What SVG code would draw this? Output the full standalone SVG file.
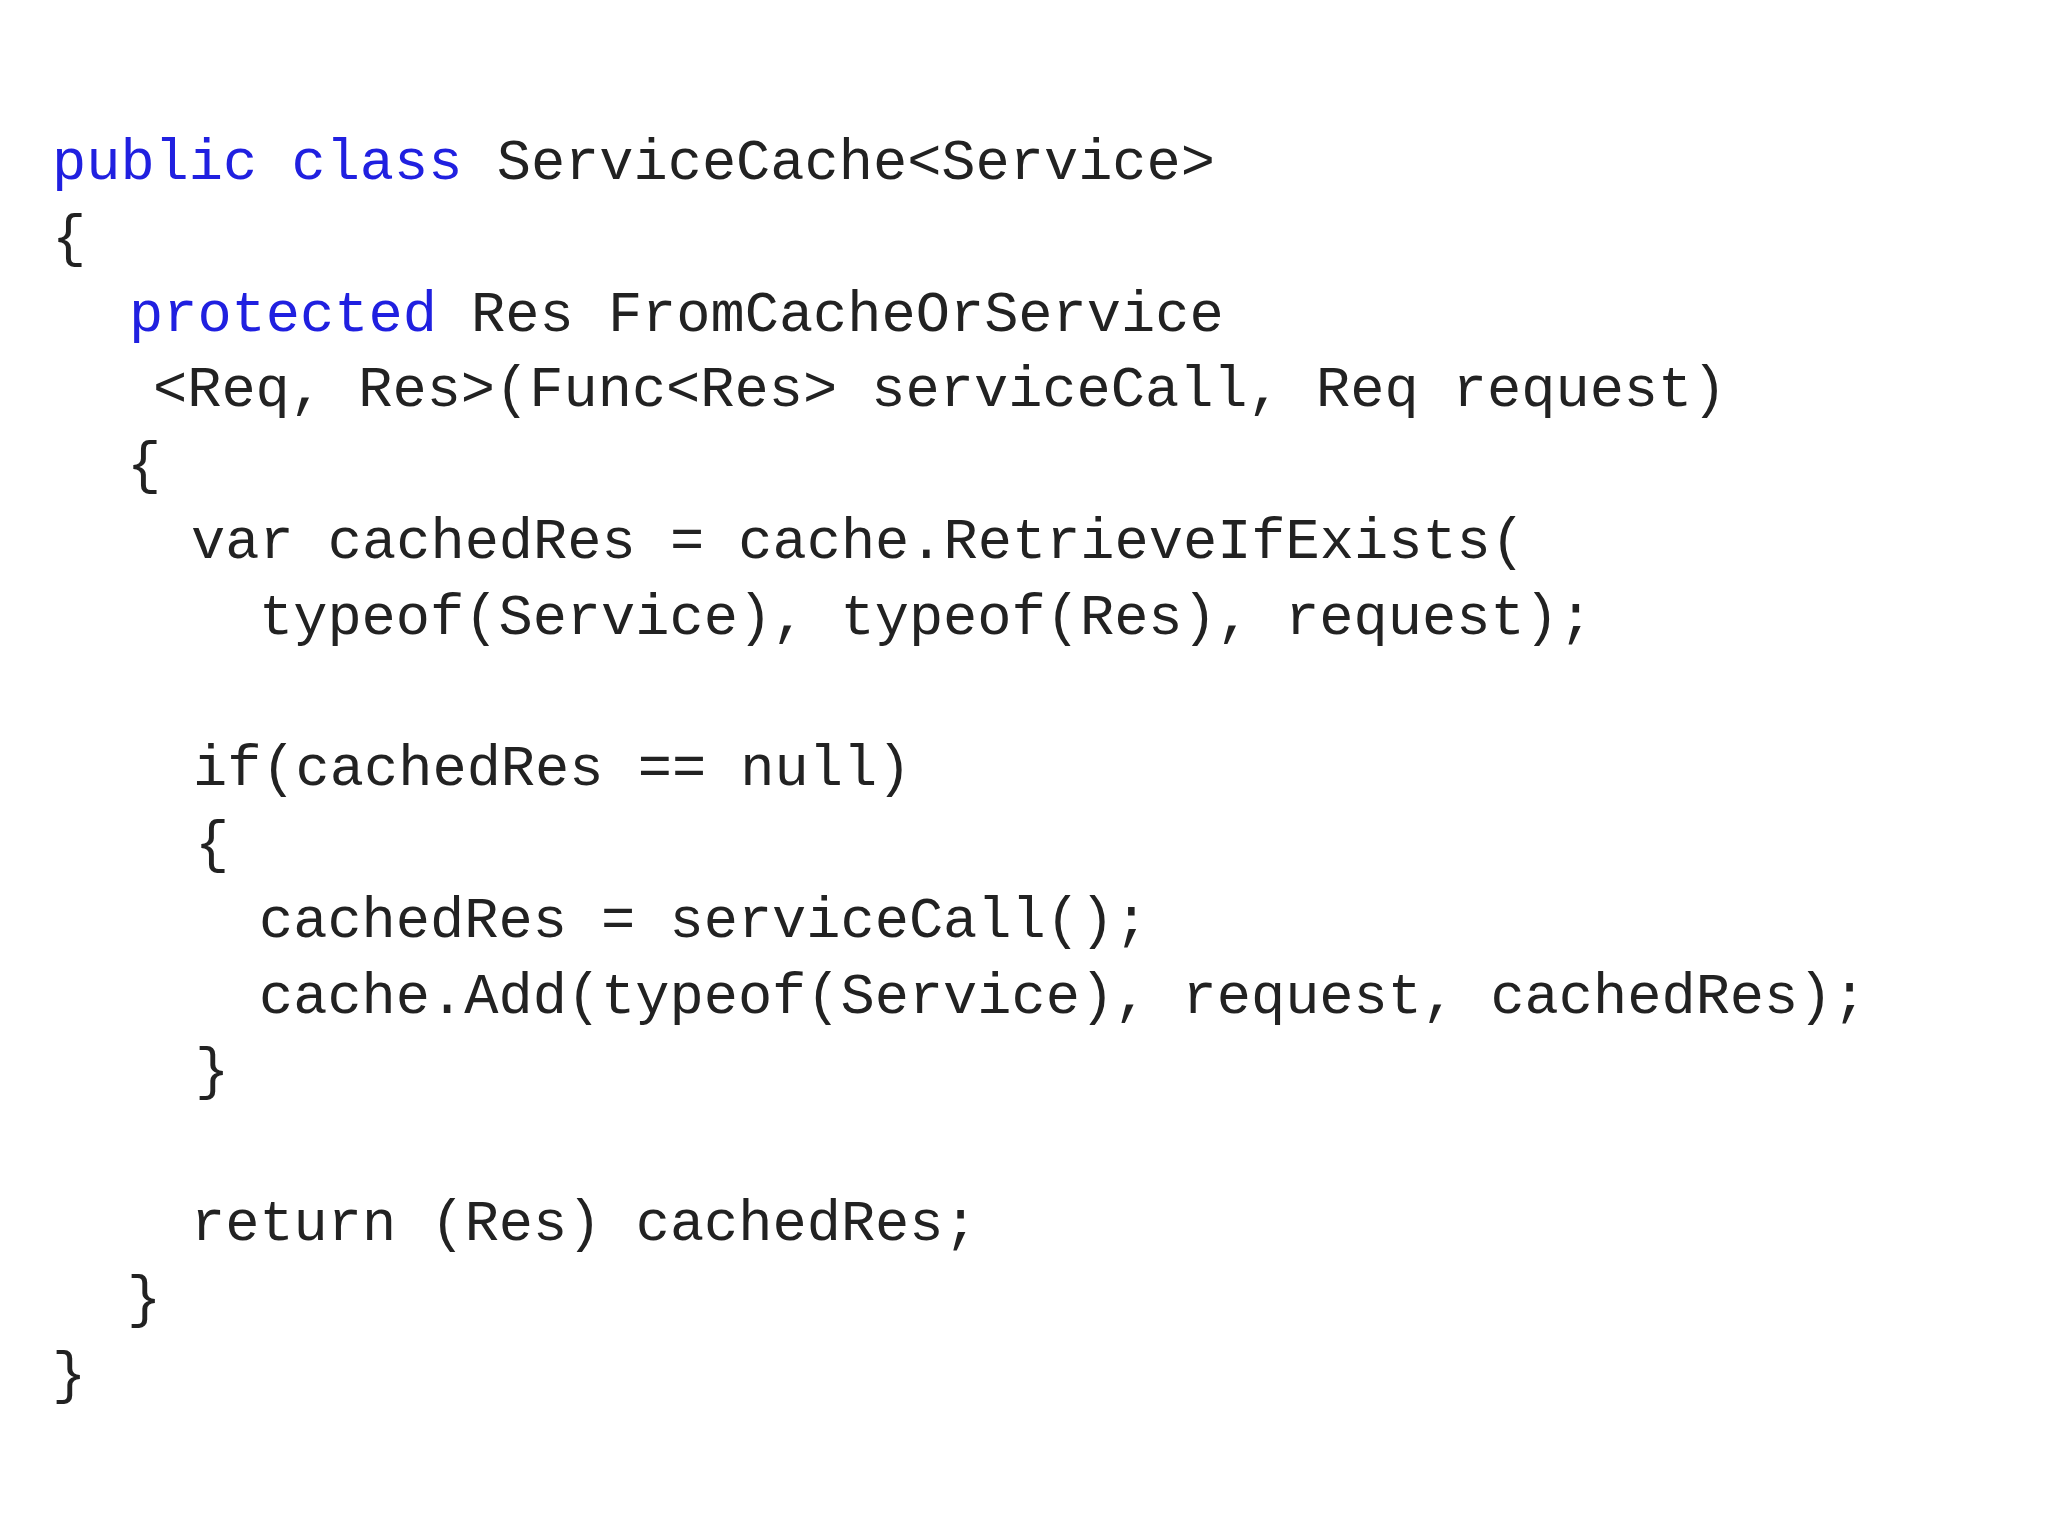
<svg xmlns="http://www.w3.org/2000/svg" width="2048" height="1536" viewBox="0 0 2048 1536">
<style>
text{font-family:"Liberation Mono","Courier New",monospace;font-size:57px;fill:#222;white-space:pre}
.k{fill:#2020e0}
</style>
<rect width="2048" height="1536" fill="#ffffff"/>
<g id="code" xml:space="preserve">
<text x="52" y="179"><tspan class="k">public class</tspan> ServiceCache&lt;Service&gt;</text>
<text x="52" y="255">{</text>
<text x="129" y="331"><tspan class="k">protected</tspan> Res FromCacheOrService</text>
<text x="153" y="406">&lt;Req, Res&gt;(Func&lt;Res&gt; serviceCall, Req request)</text>
<text x="127" y="482">{</text>
<text x="191" y="558">var cachedRes = cache.RetrieveIfExists(</text>
<text x="259" y="634">typeof(Service), typeof(Res), request);</text>
<text x="193" y="785">if(cachedRes == null)</text>
<text x="195" y="861">{</text>
<text x="259" y="937">cachedRes = serviceCall();</text>
<text x="259" y="1013">cache.Add(typeof(Service), request, cachedRes);</text>
<text x="195" y="1088">}</text>
<text x="191" y="1240">return (Res) cachedRes;</text>
<text x="127" y="1316">}</text>
<text x="52" y="1392">}</text>
</g>
</svg>
